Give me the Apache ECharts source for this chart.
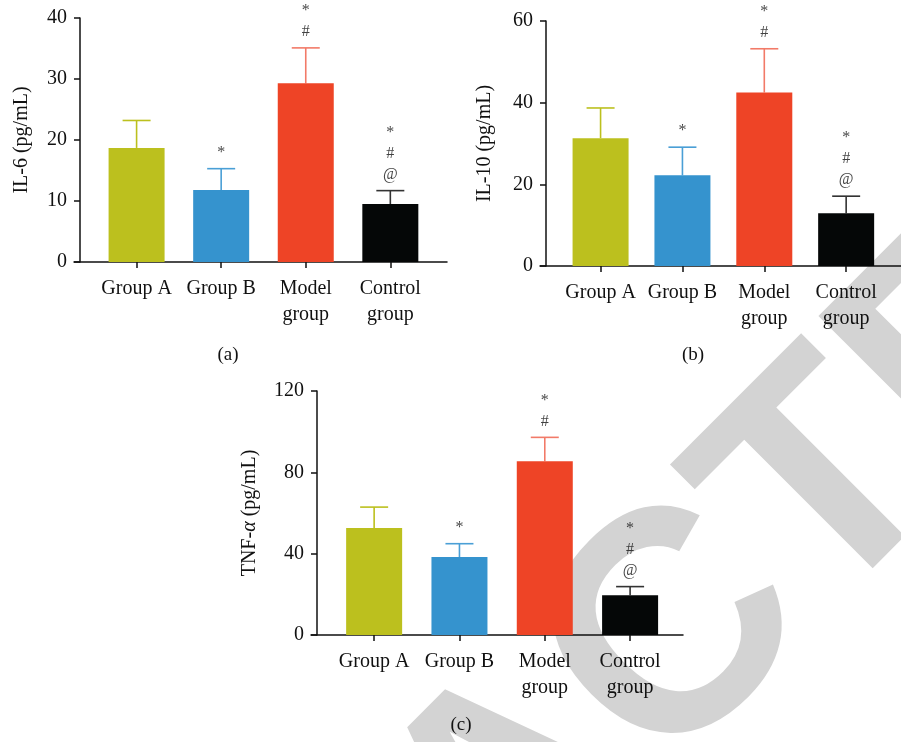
<!DOCTYPE html>
<html>
<head>
<meta charset="utf-8">
<title>Serum cytokines by group</title>
<script src="https://cdn.jsdelivr.net/npm/echarts@6/dist/echarts.min.js"></script>
<style>
  html, body { margin: 0; padding: 0; background: #ffffff; }
  #chart { width: 901px; height: 742px; }
</style>
</head>
<body>
<div id="chart"></div>
<script>
// Groups on the x axis
const categories = ['Group A', 'Group B', 'Model\ngroup', 'Control\ngroup'];

// IL-6 (pg/mL): bar means and upper error-bar ends
const il6Mean = [18.7, 11.8, 29.3, 9.5];
const il6Upper = [23.2, 15.3, 35.1, 11.7];

// IL-10 (pg/mL)
const il10Mean = [31.3, 22.2, 42.5, 12.9];
const il10Upper = [38.7, 29.1, 53.2, 17.1];

// TNF-alpha (pg/mL)
const tnfMean = [52.6, 38.3, 85.5, 19.6];
const tnfUpper = [62.9, 44.9, 97.2, 23.8];

// Significance marks stacked above each error bar
const sigMarks = ['', '*', '*\n#', '*\n#\n@'];

// Value-axis ranges [max, interval]
const il6Axis = [40, 10];
const il10Axis = [60, 20];
const tnfAxis = [120, 40];

const barColors = ['#bcc01e', '#3593ce', '#ee4426', '#050707'];
const errColors = ['#bcc01e', '#4a9fd6', '#f27a68', '#333333'];

const SERIF = '"Liberation Serif", "Times New Roman", serif';

const panels = [
  { grid: { left: 74, top: 18, width: 373, height: 244 }, xMax: 3.67,
    mean: il6Mean, upper: il6Upper, axis: il6Axis, name: 'IL-6 (pg/mL)', nameGap: 48 },
  { grid: { left: 540, top: 21, width: 373, height: 245 }, xMax: 3.67,
    mean: il10Mean, upper: il10Upper, axis: il10Axis, name: 'IL-10 (pg/mL)', nameGap: 51 },
  { grid: { left: 311, top: 391, width: 372, height: 244 }, xMax: 3.62,
    mean: tnfMean, upper: tnfUpper, axis: tnfAxis, name: 'TNF-{i|α} (pg/mL)', nameGap: 57 }
];

const axisLineStyle = { color: '#111111', width: 1.5 };
const catIdx = categories.map((c, i) => i);

const grids = [], xAxes = [], yAxes = [], series = [];

panels.forEach((p, i) => {
  grids.push(Object.assign({ containLabel: false }, p.grid));

  xAxes.push({
    type: 'value', gridIndex: i, min: -0.74, max: p.xMax,
    axisLine: { show: true, onZero: false, lineStyle: axisLineStyle },
    axisTick: { show: true, customValues: catIdx, length: 6, lineStyle: axisLineStyle },
    axisLabel: {
      show: true, customValues: catIdx, margin: 14,
      formatter: v => categories[Math.round(v)],
      color: '#111', fontFamily: SERIF, fontSize: 20, lineHeight: 26
    },
    splitLine: { show: false }
  });

  yAxes.push({
    type: 'value', gridIndex: i, min: 0, max: p.axis[0], interval: p.axis[1],
    offset: -6,
    axisLine: { show: true, onZero: false, lineStyle: axisLineStyle },
    axisTick: { show: true, length: 6, lineStyle: axisLineStyle },
    axisLabel: { margin: 13, color: '#111', fontFamily: SERIF, fontSize: 20 },
    splitLine: { show: false },
    name: p.name, nameLocation: 'middle', nameGap: p.nameGap, nameRotate: 90,
    nameTextStyle: {
      color: '#111', fontFamily: SERIF, fontSize: 20,
      rich: { i: { fontStyle: 'italic', fontFamily: SERIF, fontSize: 20, color: '#111' } }
    }
  });

  // Upper error bars with caps
  series.push({
    type: 'custom', xAxisIndex: i, yAxisIndex: i, z: 2, silent: true,
    data: p.mean.map((m, k) => [k, m, p.upper[k]]),
    encode: { x: 0, y: [1, 2] },
    renderItem: (params, api) => {
      const k = params.dataIndex;
      const base = api.coord([api.value(0), api.value(1)]);
      const top = api.coord([api.value(0), api.value(2)]);
      const st = { stroke: errColors[k], lineWidth: 1.6 };
      return {
        type: 'group',
        children: [
          { type: 'line', shape: { x1: base[0], y1: base[1], x2: top[0], y2: top[1] }, style: st },
          { type: 'line', shape: { x1: top[0] - 14, y1: top[1], x2: top[0] + 14, y2: top[1] }, style: st }
        ]
      };
    }
  });

  // Bars
  series.push({
    type: 'bar', xAxisIndex: i, yAxisIndex: i, z: 3, barWidth: 56, silent: true,
    data: p.mean.map((m, k) => ({ value: [k, m], itemStyle: { color: barColors[k] } }))
  });

  // Significance marks
  series.push({
    type: 'scatter', xAxisIndex: i, yAxisIndex: i, z: 4, silent: true,
    symbol: 'circle', symbolSize: 1, itemStyle: { color: 'rgba(0,0,0,0)' },
    data: p.upper.map((u, k) => [k, u]),
    label: {
      show: true, position: 'top', distance: 5,
      formatter: prm => sigMarks[prm.dataIndex],
      color: '#111', fontFamily: SERIF, fontSize: 16, lineHeight: 21, align: 'center'
    }
  });
});

const captionFont = '19px ' + SERIF;
const graphics = [
  {
    type: 'text', x: 518, y: 800, rotation: Math.PI / 4, z: -10, silent: true,
    style: {
      text: 'RETRACTED', fill: '#d3d3d3',
      font: 'bold 315px "Liberation Sans", Arial, sans-serif',
      textAlign: 'center', textVerticalAlign: 'middle', align: 'center', verticalAlign: 'middle'
    }
  },
  { type: 'text', x: 228, y: 355, silent: true,
    style: { text: '(a)', fill: '#111', font: captionFont, textAlign: 'center', textVerticalAlign: 'middle', align: 'center', verticalAlign: 'middle' } },
  { type: 'text', x: 693, y: 355, silent: true,
    style: { text: '(b)', fill: '#111', font: captionFont, textAlign: 'center', textVerticalAlign: 'middle', align: 'center', verticalAlign: 'middle' } },
  { type: 'text', x: 461, y: 725, silent: true,
    style: { text: '(c)', fill: '#111', font: captionFont, textAlign: 'center', textVerticalAlign: 'middle', align: 'center', verticalAlign: 'middle' } }
];

const chart = echarts.init(document.getElementById('chart'), null, { renderer: 'canvas' });
chart.setOption({
  animation: false,
  backgroundColor: '#ffffff',
  grid: grids,
  xAxis: xAxes,
  yAxis: yAxes,
  series: series,
  graphic: graphics
});
</script>
</body>
</html>
